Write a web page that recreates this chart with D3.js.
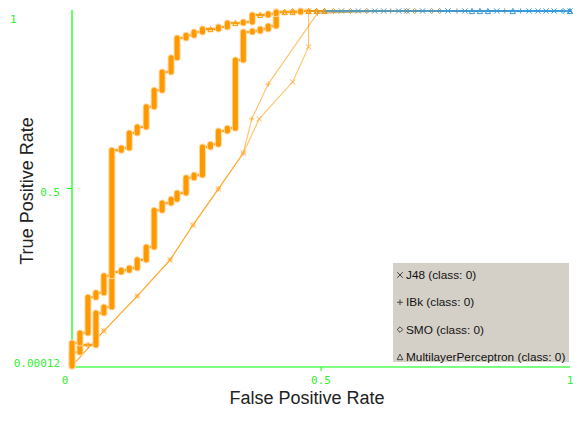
<!DOCTYPE html>
<html>
<head>
<meta charset="utf-8">
<script src="https://cdn.jsdelivr.net/npm/d3@7"></script>
<style>
  body { margin: 0; background: #fff; }
  svg { display: block; }
</style>
</head>
<body>
<div id="chart"></div>
<script>
// false positive rate of each step of the two dense curves
const fprSteps = [0, 0.016, 0.032, 0.048, 0.064, 0.080, 0.099, 0.115, 0.131, 0.149,
                  0.165, 0.181, 0.199, 0.211, 0.229, 0.245, 0.262, 0.278, 0.294, 0.312,
                  0.328, 0.344, 0.362, 0.378, 0.394, 0.410, 0.427, 0.443, 0.459, 0.475];

// [tpr at bottom of step, tpr at top of step]
const mlpTpr = [[0, 0.065], [0.065, 0.093], [0.093, 0.194], [0.194, 0.206], [0.206, 0.254],
                [0.254, 0.608], [0.608, 0.614], [0.614, 0.656], [0.656, 0.673], [0.673, 0.730],
                [0.730, 0.777], [0.777, 0.828], [0.828, 0.868], [0.868, 0.924], [0.924, 0.932],
                [0.932, 0.941], [0.941, 0.949], [0.949, 0.949], [0.949, 0.955], [0.955, 0.966],
                [0.966, 0.966], [0.966, 0.969], [0.969, 0.989], [0.989, 0.989], [0.989, 0.992],
                [0.992, 0.997], [0.997, 0.997], [0.997, 0.997], [0.997, 1], [1, 1]];

const smoTpr = [[0, 0.039], [0.039, 0.059], [0.059, 0.059], [0.059, 0.149], [0.149, 0.166],
                [0.166, 0.265], [0.265, 0.270], [0.270, 0.276], [0.276, 0.299], [0.299, 0.335],
                [0.335, 0.439], [0.439, 0.459], [0.459, 0.470], [0.470, 0.487], [0.487, 0.530],
                [0.530, 0.538], [0.538, 0.617], [0.617, 0.625], [0.625, 0.662], [0.662, 0.670],
                [0.670, 0.862], [0.862, 0.941], [0.941, 0.944], [0.944, 0.949], [0.949, 0.958],
                [0.958, 0.997], [0.997, 0.997]];

const j48Points = [[0, 0], [0.064, 0.099], [0.131, 0.197], [0.197, 0.299], [0.243, 0.397],
                   [0.294, 0.499], [0.344, 0.600], [0.376, 0.696], [0.443, 0.800],
                   [0.475, 0.899], [0.475, 1]];
const ibkPoints = [[0, 0], [0.064, 0.099], [0.131, 0.197], [0.197, 0.299], [0.243, 0.397],
                   [0.294, 0.499], [0.344, 0.600], [0.361, 0.696], [0.394, 0.794],
                   [0.493, 0.994]];

// points along TPR = 1: [fpr, threshold]
const j48Tail = [[0.541, 0.5], [0.575, 0.3], [0.608, 0.2], [0.626, 0.25], [0.656, 0.1],
                 [0.672, 0.1], [0.704, 0.1], [0.755, 0.1], [0.789, 0.15], [0.853, 0.05],
                 [0.918, 0], [0.936, 0], [0.952, 0], [0.968, 0], [1, 0]];
const ibkTail = [[0.640, 0.6], [0.773, 0.45], [0.869, 0.4], [0.901, 0.1]];
const smoTail = [[0.443, 0.95], [0.459, 0.95], [0.475, 0.95], [0.491, 0.9], [0.507, 0.9],
                 [0.525, 0.85], [0.559, 0.7], [0.592, 0.65], [0.672, 0.6], [0.688, 0.6],
                 [0.722, 0.45], [0.738, 0.45], [0.986, 0.02]];
const mlpTail = [[0.491, 0.9], [0.507, 0.85], [0.803, 0.05], [0.819, 0.05], [0.835, 0.05],
                 [0.885, 0.03], [1, 0]];

const legendLabels = ["J48 (class: 0)", "IBk (class: 0)", "SMO (class: 0)", "MultilayerPerceptron (class: 0)"];
const legendSymbols = ["x", "+", "d", "t"];
const xTicks = [0, 0.5, 1];

const W = 581, H = 421;
const orange = "#ff9900", green = "#00ff00";

const svg = d3.select("#chart").append("svg").attr("width", W).attr("height", H);

const x = d3.scaleLinear().domain([0, 1]).range([72, 570]);
const y = d3.scaleLinear().domain([0, 1]).range([366, 11]);
const thrColor = d3.scaleLinear().domain([0, 1]).range(["#3399dd", "#ff9900"]);

function marker(g, type, cx, cy, col, s) {
  s = s || 2.6;
  let d;
  if (type == "x") d = `M${cx-s},${cy-s}L${cx+s},${cy+s}M${cx-s},${cy+s}L${cx+s},${cy-s}`;
  else if (type == "+") d = `M${cx-s},${cy}L${cx+s},${cy}M${cx},${cy-s}L${cx},${cy+s}`;
  else if (type == "d") d = `M${cx},${cy-s}L${cx+s},${cy}L${cx},${cy+s}L${cx-s},${cy}Z`;
  else d = `M${cx},${cy-s}L${cx+s},${cy+s}L${cx-s},${cy+s}Z`;
  g.append("path").attr("d", d).attr("stroke", col).attr("fill", "none");
}

// axes
svg.append("line").attr("x1", x(0)).attr("x2", x(0)).attr("y1", 10).attr("y2", y(0) + 1)
   .attr("stroke", green).attr("stroke-width", 1.2);
svg.append("line").attr("x1", x(0)).attr("x2", x(1)).attr("y1", y(0) + 1).attr("y2", y(0) + 1)
   .attr("stroke", green).attr("stroke-width", 1.2);

const tickFont = "'DejaVu Sans Mono', monospace";
svg.append("line").attr("x1", x(0.5)).attr("x2", x(0.5)).attr("y1", y(0) + 1).attr("y2", y(0) + 5)
   .attr("stroke", green);
svg.append("line").attr("x1", x(0) - 5).attr("x2", x(0)).attr("y1", y(0.5)).attr("y2", y(0.5))
   .attr("stroke", green);

svg.selectAll(".xt").data(xTicks).enter().append("text")
   .attr("x", d => x(d) - (d == 0 ? 7 : 0)).attr("y", y(0) + 18)
   .attr("text-anchor", "middle").attr("font-family", tickFont).attr("font-size", 11)
   .attr("fill", "#33ee33").text(d => d);

svg.append("text").attr("x", 10).attr("y", y(1) + 12).attr("font-family", tickFont)
   .attr("font-size", 11).attr("fill", "#33ee33").text("1");
svg.append("text").attr("x", 60).attr("y", y(0.5) + 7).attr("text-anchor", "end")
   .attr("font-family", tickFont).attr("font-size", 11).attr("fill", "#33ee33").text("0.5");
svg.append("text").attr("x", 60).attr("y", y(0) + 1).attr("text-anchor", "end")
   .attr("font-family", tickFont).attr("font-size", 11).attr("fill", "#33ee33").text("0.00012");

// axis titles
svg.append("text").attr("x", 307).attr("y", 404).attr("text-anchor", "middle")
   .attr("font-family", "'Liberation Sans', Arial, sans-serif").attr("font-size", 18)
   .attr("fill", "#222").text("False Positive Rate");
svg.append("text").attr("transform", "translate(33,191) rotate(-90)").attr("text-anchor", "middle")
   .attr("font-family", "'Liberation Sans', Arial, sans-serif").attr("font-size", 18)
   .attr("fill", "#222").text("True Positive Rate");

const plot = svg.append("g");
const line = d3.line().x(d => x(d[0])).y(d => y(d[1]));

// thin curves
function thinCurve(pts, tail, sym) {
  plot.append("path").attr("d", line(pts)).attr("fill", "none")
      .attr("stroke", orange).attr("stroke-opacity", 0.6).attr("stroke-width", 1.1);
  pts.slice(1).forEach(p => marker(plot, sym, x(p[0]), y(p[1]), "#ffb040"));
  let prev = pts[pts.length - 1];
  tail.forEach(t => {
    plot.append("line").attr("x1", x(prev[0])).attr("y1", y(prev[1]))
        .attr("x2", x(t[0])).attr("y2", y(1))
        .attr("stroke", thrColor(t[1])).attr("stroke-opacity", 0.75).attr("stroke-width", 1.3);
    prev = [t[0], 1];
  });
  tail.forEach(t => marker(plot, sym, x(t[0]), y(1), thrColor(t[1])));
}

// dense step curves
function stepCurve(tprs, tail, sym) {
  const verts = [];
  tprs.forEach((t, i) => { verts.push([fprSteps[i], t[0]]); verts.push([fprSteps[i], t[1]]); });
  plot.append("path").attr("d", line(verts)).attr("fill", "none")
      .attr("stroke", "#ffcc88").attr("stroke-width", 3);
  plot.append("path").attr("d", line(verts)).attr("fill", "none")
      .attr("stroke", orange).attr("stroke-width", 1.6);
  tprs.forEach((t, i) => {
    if (t[1] > t[0]) {
      plot.append("line").attr("x1", x(fprSteps[i])).attr("x2", x(fprSteps[i]))
          .attr("y1", y(t[0])).attr("y2", y(t[1]))
          .attr("stroke", "#ffd7a0").attr("stroke-width", 7).attr("stroke-linecap", "round");
    }
  });
  tprs.forEach((t, i) => {
    if (t[1] > t[0]) {
      plot.append("line").attr("x1", x(fprSteps[i])).attr("x2", x(fprSteps[i]))
          .attr("y1", y(t[0])).attr("y2", y(t[1]))
          .attr("stroke", orange).attr("stroke-width", 5).attr("stroke-linecap", "round");
    } else {
      marker(plot, sym, x(fprSteps[i]), y(t[1]), orange);
    }
  });
  let prev = [fprSteps[tprs.length - 1], tprs[tprs.length - 1][1]];
  tail.forEach(t => {
    plot.append("line").attr("x1", x(prev[0])).attr("y1", y(prev[1]))
        .attr("x2", x(t[0])).attr("y2", y(1))
        .attr("stroke", thrColor(t[1])).attr("stroke-width", 1.6);
    prev = [t[0], 1];
  });
  tail.forEach(t => marker(plot, sym, x(t[0]), y(1), thrColor(t[1])));
}

thinCurve(j48Points, j48Tail, "x");
thinCurve(ibkPoints, ibkTail, "+");
stepCurve(smoTpr, smoTail, "d");
stepCurve(mlpTpr, mlpTail, "t");

// legend
const lg = svg.append("g").attr("transform", "translate(393,263)");
lg.append("rect").attr("width", 176).attr("height", 99).attr("fill", "#d4d0c8");
legendLabels.forEach((lab, i) => {
  const cy = 12 + i * 27.3;
  marker(lg, legendSymbols[i], 7, cy, "#444", 2.8);
  lg.append("text").attr("x", 13).attr("y", cy + 4)
    .attr("font-family", "'Liberation Sans', Arial, sans-serif").attr("font-size", 11.8)
    .attr("fill", "#111").text(lab);
});
</script>
</body>
</html>
